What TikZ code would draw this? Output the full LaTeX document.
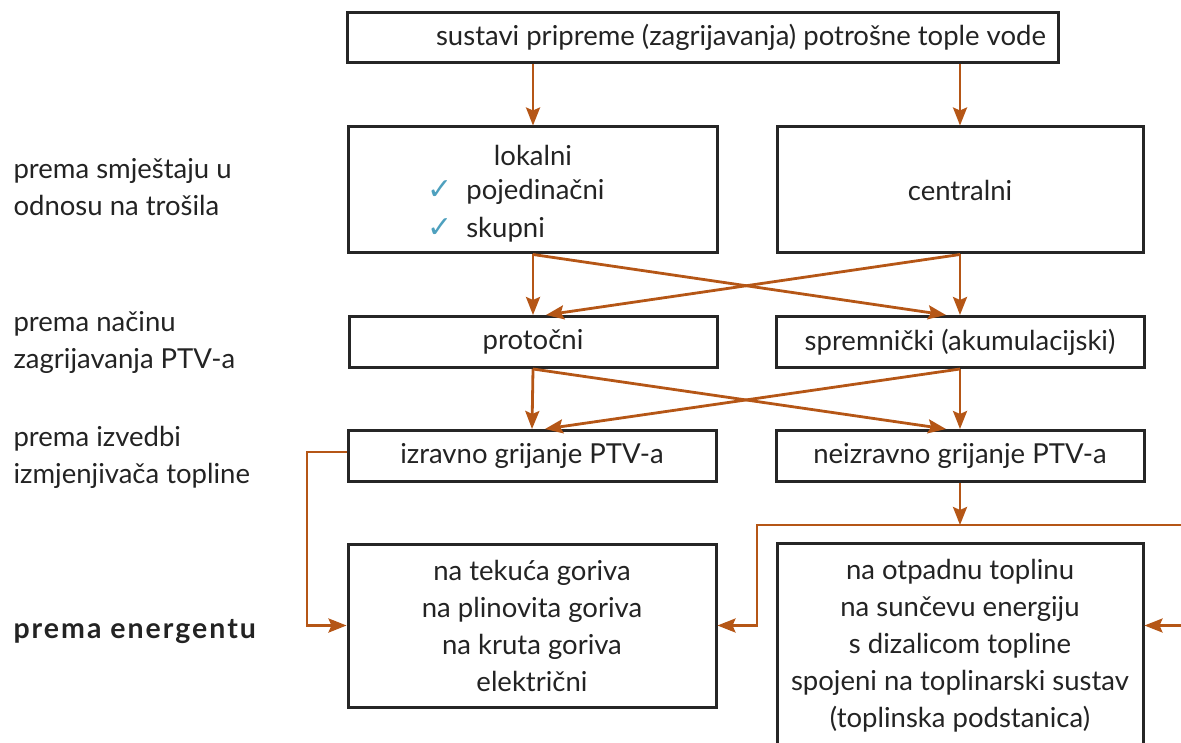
\documentclass[tikz,border=0pt]{standalone}
\usepackage{fontspec}
\setmainfont{Lato}
\newfontfamily\symfont{DejaVu Sans}
\usetikzlibrary{arrows.meta}
\definecolor{arrowbrown}{RGB}{181,86,22}
\definecolor{checkblue}{RGB}{78,160,190}
\definecolor{textgray}{RGB}{35,35,35}
\newcommand{\tick}{{\symfont\color{checkblue}\fontsize{30}{30}\selectfont ✓}}

\begin{document}
\begin{tikzpicture}[x=1pt,y=-1pt,font=\fontsize{27.5}{37}\selectfont,
	box/.style={draw=black!85,line width=3pt,text=textgray,align=center,inner sep=0pt},
	wide/.style={box,minimum width=368pt,minimum height=51pt},
	link/.style={draw=arrowbrown,line width=2.8pt,-{Stealth[length=18pt,width=14pt,inset=3pt]}},
	label/.style={anchor=west,align=left,text=textgray}]
	\useasboundingbox (0,0) rectangle (1181,743);
	\clip (0,0) rectangle (1181,743);

	\node[box,minimum width=711pt,minimum height=50pt] (sustavi) at (702.5,37.5) {};
	\node[text=textgray] (sustaviT) at (741,37.5) {sustavi pripreme (zagrijavanja) potrošne tople vode};

	\node[box,minimum width=369pt,minimum height=126pt] (lokalni) at (533,190) {};
	\node[text=textgray] (lokalniT) at (533,155) {lokalni};
	\node[label,inner sep=0pt] (pojed) at (427,192) {\tick\hspace{14pt}pojedinačni};
	\node[label,inner sep=0pt] (skup) at (427,230) {\tick\hspace{14pt}skupni};
	\node[box,minimum width=366pt,minimum height=126pt] (central) at (960,190) {centralni};

	\node[wide] (protoc) at (533,342) {protočni};
	\node[wide] (sprem) at (960,342) {spremnički (akumulacijski)};
	\node[wide] (izrav) at (532,456) {izravno grijanje PTV-a};
	\node[wide] (neizrav) at (960,456) {neizravno grijanje PTV-a};

	\node[box,minimum width=368pt,minimum height=163pt] (gorivo) at (532,625.5) {na tekuća goriva\\ na plinovita goriva\\ na kruta goriva\\ električni};
	\node[box,minimum width=366pt,minimum height=216pt] (obnov) at (960,651) {};
	\node[text=textgray,align=center,anchor=north] (obnovT) at (960,556) {na otpadnu toplinu\\ na sunčevu energiju\\ s dizalicom topline\\ spojeni na toplinarski sustav\\ (toplinska podstanica)};

	\node[label] (smjestaj) at (10,187) {prema smještaju u\\ odnosu na trošila};
	\node[label] (nacin) at (10,342) {prema načinu\\ zagrijavanja PTV-a};
	\node[label] (izvedba) at (10,457) {prema izvedbi\\ izmjenjivača topline};
	\node[label,font=\fontsize{28.5}{37}\selectfont\bfseries\addfontfeatures{LetterSpace=7}] (energent) at (10,632) {prema energentu};

	\coordinate (bus) at (960,525);
	\coordinate (busL) at (757,525);
	\coordinate (busR) at (1200,525);
	\coordinate (turnL) at (307,452);

	\draw[link] (sustavi.south -| lokalni) -- (lokalni.north);
	\draw[link] (sustavi.south -| central) -- (central.north);
	\draw[link] (lokalni.south) -- (protoc.north);
	\draw[link] (lokalni.south) -- ([xshift=-14pt]sprem.north);
	\draw[link] (central.south) -- (sprem.north);
	\draw[link] (central.south) -- ([xshift=13pt]protoc.north);
	\draw[link] (protoc.south) -- (izrav.north);
	\draw[link] (protoc.south) -- ([xshift=-14pt]neizrav.north);
	\draw[link] (sprem.south) -- (neizrav.north);
	\draw[link] (sprem.south) -- ([xshift=13pt]izrav.north);
	\draw[link] (izrav.west |- turnL) -- (turnL) |- (gorivo.west);
	\draw[link] (neizrav.south) -- (bus);
	\draw[link] (bus) -- (busL) |- (gorivo.east);
	\draw[link] (bus) -- (busR) |- (obnov.east |- gorivo.east);
\end{tikzpicture}
\end{document}
